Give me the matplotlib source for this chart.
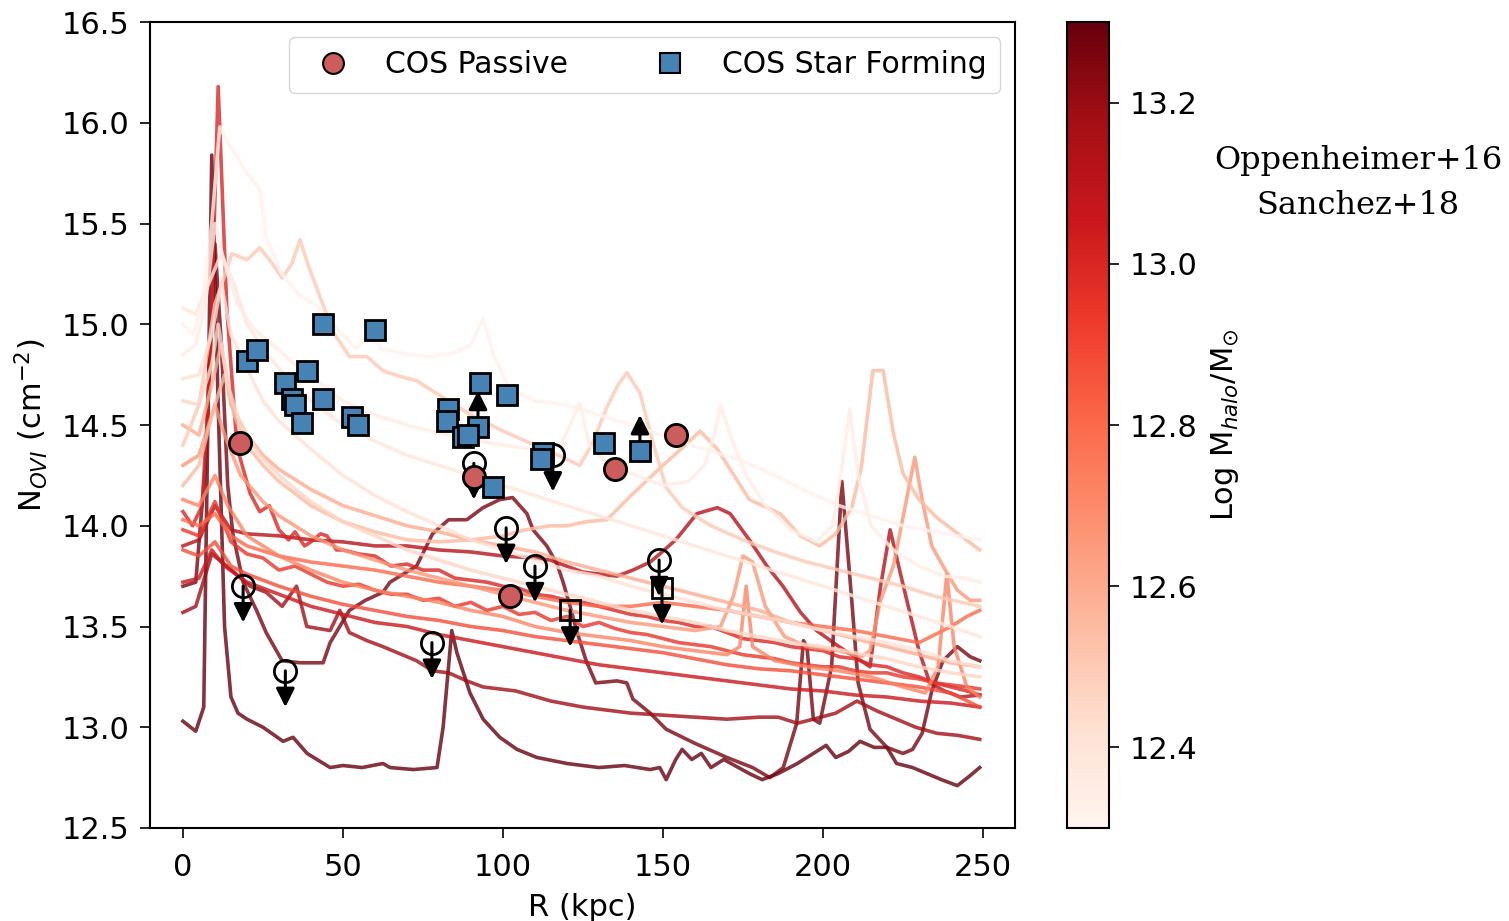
import numpy as np
import matplotlib as mpl
import matplotlib.pyplot as plt
from matplotlib.lines import Line2D

# simulated N_OVI profiles, one per halo (R in kpc, log N in cm^-2)
r_a = [0, 3, 6, 9, 11.5, 14, 17, 20, 24, 26, 31, 36, 42, 48, 54, 58.4, 62, 70, 78, 85,
       90, 93.8, 97, 102, 110, 120, 130, 140, 146, 155, 165, 175, 185, 195, 205, 215, 225, 235, 242, 249]
n_a = [15.0, 14.95, 15.1, 15.5, 15.98, 15.9, 15.83, 15.75, 15.67, 15.43, 15.25, 15.15, 15.09, 14.98, 14.88, 14.95, 14.88, 14.85, 14.84, 14.86,
       14.9, 15.03, 14.85, 14.68, 14.62, 14.6, 14.55, 14.5, 14.47, 14.42, 14.37, 14.32, 14.25, 14.17, 14.1, 14.05, 14.0, 13.97, 13.95, 13.93]

r_b = [0, 4, 7, 10, 13, 17, 22, 28, 35, 42, 50, 60, 70, 80, 90, 100, 110, 118, 121, 124,
       127, 132, 140, 150, 158, 163, 166, 168, 171, 176, 182, 190, 198, 203, 206, 208.4, 211, 215, 222, 230, 238, 244, 249]
n_b = [14.85, 14.9, 15.1, 15.5, 15.3, 15.1, 14.98, 14.9, 14.8, 14.72, 14.62, 14.55, 14.5, 14.46, 14.43, 14.4, 14.38, 14.4, 14.5, 14.61,
       14.4, 14.32, 14.26, 14.2, 14.22, 14.3, 14.45, 14.6, 14.45, 14.25, 14.1, 13.98, 13.92, 14.0, 14.3, 14.58, 14.25, 14.0, 13.88, 13.8, 13.75, 13.74, 13.72]

r_c = [0, 4, 8, 12, 16, 20, 25, 30, 40, 50, 60, 70, 80, 90, 100, 110, 120, 130, 140, 150,
       160, 170, 180, 190, 200, 210, 220, 230, 240, 249]
n_c = [15.08, 15.05, 15.2, 15.35, 15.2, 15.0, 14.88, 14.78, 14.62, 14.5, 14.42, 14.35, 14.3, 14.25, 14.2, 14.15, 14.1, 14.05, 14.0, 13.95,
       13.9, 13.85, 13.8, 13.75, 13.7, 13.65, 13.6, 13.55, 13.5, 13.45]

r_d = [0, 5, 9, 12, 15, 20, 25, 30, 40, 50, 60, 70, 80, 90, 100, 110, 120, 130, 140, 150,
       160, 170, 180, 190, 200, 210, 220, 230, 240, 249]
n_d = [14.73, 14.75, 14.95, 15.2, 14.95, 14.78, 14.62, 14.52, 14.38, 14.25, 14.15, 14.07, 14.0, 13.93, 13.88, 13.83, 13.78, 13.75, 13.7, 13.66,
       13.62, 13.58, 13.55, 13.52, 13.48, 13.45, 13.42, 13.38, 13.33, 13.3]

r_e = [0, 5, 9, 11, 14, 18, 24, 30, 40, 50, 60, 70, 80, 90, 100, 110, 120, 130, 140, 150,
       160, 170, 180, 190, 200, 210, 220, 230, 240, 249]
n_e = [14.62, 14.6, 14.8, 15.0, 14.7, 14.5, 14.35, 14.25, 14.12, 14.02, 13.95, 13.88, 13.83, 13.78, 13.74, 13.7, 13.66, 13.62, 13.58, 13.55,
       13.52, 13.48, 13.45, 13.42, 13.4, 13.37, 13.34, 13.3, 13.27, 13.25]

r_f = [0, 5, 10, 15.3, 20, 24, 28, 31, 34, 36.6, 39, 41.8, 47, 52, 57.5, 62.5, 68, 73, 80, 90,
       100, 110, 120, 124, 128, 132.5, 136, 138.7, 142.8, 146.9, 151, 156, 165, 175, 185, 195, 205, 215, 225, 235, 249]
n_f = [14.4, 14.6, 15.1, 15.35, 15.32, 15.38, 15.3, 15.23, 15.3, 15.42, 15.3, 15.18, 14.96, 14.84, 14.84, 14.77, 14.74, 14.72, 14.65, 14.55,
       14.47, 14.4, 14.33, 14.3, 14.41, 14.59, 14.7, 14.76, 14.66, 14.41, 14.19, 14.09, 14.0, 13.93, 13.87, 13.82, 13.78, 13.74, 13.7, 13.65, 13.6]

r_g = [0, 5, 10, 13, 16, 20, 25, 30, 40, 50, 60, 70, 80, 90, 100, 107, 114.7, 120, 126, 132.5,
       140, 150, 157, 161.6, 167, 173, 177, 186.6, 193, 199, 204, 209, 212, 215.6, 218.8, 222, 225, 230, 235.6, 240.6, 249]
n_g = [14.2, 14.3, 14.6, 14.75, 14.55, 14.4, 14.3, 14.22, 14.1, 14.02, 13.97, 13.93, 13.92, 13.93, 13.95, 13.98, 14.0, 14.0, 14.02, 14.03,
       14.15, 14.3, 14.4, 14.47, 14.38, 14.23, 14.13, 14.06, 13.95, 13.9, 13.96, 14.09, 14.29, 14.77, 14.77, 14.46, 14.26, 14.13, 14.04, 13.98, 13.88]

r_h = [0, 5, 9, 12, 15, 20, 25, 30, 40, 50, 60, 70, 80, 90, 100, 110, 120, 130, 140, 150,
       160, 170, 180, 190, 200, 210, 220, 230, 240, 249]
n_h = [14.5, 14.45, 14.7, 14.9, 14.6, 14.45, 14.35, 14.28, 14.18, 14.1, 14.05, 14.0, 13.97, 13.93, 13.9, 13.87, 13.82, 13.78, 13.74, 13.7,
       13.66, 13.62, 13.58, 13.52, 13.48, 13.44, 13.4, 13.36, 13.32, 13.3]

r_j = [0, 5, 10, 13, 18, 25, 30, 40, 50, 60, 70, 80, 90, 100, 110, 120, 130, 140, 150, 160,
       168, 172, 175, 178, 182, 188, 195, 205, 212, 214.7, 218, 222, 225, 228.7, 231, 234, 237.5, 242, 246, 249]
n_j = [14.3, 14.35, 14.6, 14.45, 14.25, 14.12, 14.05, 13.95, 13.88, 13.83, 13.78, 13.74, 13.7, 13.66, 13.62, 13.58, 13.55, 13.52, 13.5, 13.48,
       13.5, 13.65, 13.85, 13.82, 13.6, 13.45, 13.4, 13.38, 13.35, 13.38, 13.63, 13.8, 14.04, 14.34, 14.13, 13.9, 13.8, 13.68, 13.63, 13.63]

r_k = [0, 5, 10, 14, 20, 30, 40, 50, 60, 70, 80, 90, 100, 110, 120, 130, 140, 150, 160, 170,
       174, 176, 178, 185, 195, 205, 215, 225, 232, 236, 238.7, 241, 245, 249]
n_k = [14.13, 14.1, 14.25, 14.1, 13.95, 13.85, 13.78, 13.72, 13.68, 13.65, 13.62, 13.58, 13.55, 13.5, 13.47, 13.45, 13.43, 13.4, 13.38, 13.36,
       13.4, 13.7, 13.4, 13.33, 13.3, 13.28, 13.25, 13.2, 13.17, 13.3, 13.76, 13.4, 13.2, 13.15]

r_l = [0, 5, 10, 15, 20, 30, 40, 50, 60, 70, 80, 90, 100, 110, 120, 130, 140, 150, 160, 170,
       180, 190, 200, 210, 220, 230, 240, 245, 249]
n_l = [14.03, 14.0, 14.06, 13.95, 13.9, 13.85, 13.82, 13.8, 13.78, 13.75, 13.72, 13.7, 13.68, 13.65, 13.62, 13.6, 13.6, 13.62, 13.6, 13.58,
       13.55, 13.52, 13.5, 13.48, 13.45, 13.42, 13.5, 13.55, 13.58]

r_m = [0, 5, 10, 15, 20, 30, 40, 50, 60, 70, 80, 90, 100, 110, 120, 130, 140, 150, 160, 170,
       180, 190, 200, 210, 220, 230, 240, 249]
n_m = [13.88, 13.85, 13.92, 13.8, 13.76, 13.7, 13.65, 13.61, 13.58, 13.55, 13.53, 13.5, 13.48, 13.45, 13.43, 13.41, 13.39, 13.37, 13.34, 13.31,
       13.29, 13.28, 13.26, 13.24, 13.22, 13.2, 13.17, 13.1]

r_n = [0, 5, 10, 15, 20, 25, 30, 35, 40, 45, 50, 55, 60, 65, 70, 75, 80, 85, 90, 95,
       100, 105, 110, 115, 120, 125, 130, 135, 140, 145, 150, 155, 160, 165, 170, 175, 180, 185, 190, 195,
       200, 205, 210, 215, 220, 225, 230, 235, 240, 245, 249]
n_n = [13.98, 13.95, 14.12, 13.92, 13.86, 13.84, 13.78, 13.8, 13.76, 13.72, 13.7, 13.71, 13.68, 13.66, 13.66, 13.63, 13.64, 13.6, 13.62, 13.58,
       13.6, 13.56, 13.57, 13.53, 13.55, 13.5, 13.52, 13.49, 13.47, 13.46, 13.44, 13.42, 13.41, 13.4, 13.38, 13.36, 13.35, 13.34, 13.32, 13.31,
       13.3, 13.3, 13.28, 13.27, 13.27, 13.25, 13.24, 13.22, 13.21, 13.2, 13.19]

r_o = [0, 3, 6, 8.5, 11, 13.7, 16.9, 21, 24, 27, 30, 33, 35, 38, 40, 43, 45, 48, 50, 55,
       60, 65, 70, 75, 80, 85, 90, 95, 100, 105, 110, 115, 120, 125, 130, 135, 140, 145, 150, 155,
       160, 165, 170, 175, 180, 185, 190, 195, 200, 205, 210, 215, 220, 225, 230, 235, 240, 245, 249]
n_o = [14.07, 14.0, 14.1, 14.8, 16.18, 15.08, 14.39, 14.16, 14.07, 14.1, 13.98, 13.93, 13.97, 13.9, 13.92, 13.96, 13.95, 13.88, 13.88, 13.86,
       13.85, 13.8, 13.81, 13.78, 13.78, 13.74, 13.73, 13.72, 13.7, 13.69, 13.66, 13.65, 13.63, 13.62, 13.6, 13.58, 13.56, 13.55, 13.53, 13.52,
       13.5, 13.5, 13.47, 13.44, 13.43, 13.42, 13.4, 13.39, 13.38, 13.35, 13.34, 13.31, 13.3, 13.27, 13.25, 13.22, 13.2, 13.18, 13.16]

r_p = [0, 5, 9, 13, 20, 30, 40, 50, 60, 70, 80, 90, 100, 110, 120, 130, 140, 150, 160, 170,
       180, 190, 200, 210, 220, 230, 240, 249]
n_p = [13.72, 13.74, 13.88, 13.8, 13.72, 13.66, 13.6, 13.56, 13.52, 13.5, 13.46, 13.43, 13.4, 13.37, 13.34, 13.31, 13.29, 13.27, 13.25, 13.23,
       13.21, 13.19, 13.18, 13.16, 13.15, 13.13, 13.12, 13.1]

r_q = [0, 5, 10, 15, 20, 30, 40, 50, 60, 70, 80, 90, 100, 110, 114.7, 125, 135.6, 140.6, 146, 149,
       154, 160.6, 167, 171, 177, 182.5, 187.5, 193, 198, 205, 210, 214.7, 218, 221, 225, 230, 233.4, 238, 243, 249]
n_q = [13.9, 13.93, 14.1, 13.98, 13.96, 13.95, 13.93, 13.92, 13.9, 13.9, 13.88, 13.87, 13.85, 13.84, 13.83, 13.77, 13.75, 13.78, 13.82, 13.86,
       13.93, 14.06, 14.09, 14.06, 13.93, 13.8, 13.7, 13.57, 13.48, 13.4, 13.35, 13.3, 13.7, 13.98, 13.71, 13.38, 13.22, 13.18, 13.15, 13.16]

r_s = [0, 4, 9, 13.7, 21, 26, 31, 35.5, 38.7, 46, 49, 52, 57.5, 62.5, 73, 78, 83, 88.7, 93.8, 104,
       115, 125, 130, 140, 150, 160, 170, 180, 186, 192, 197, 204, 210.6, 217, 223, 229, 235.6, 242, 249]
n_s = [13.57, 13.6, 13.86, 13.8, 13.7, 13.67, 13.6, 13.7, 13.5, 13.48, 13.58, 13.47, 13.43, 13.4, 13.33, 13.28, 13.27, 13.23, 13.2, 13.18,
       13.13, 13.1, 13.09, 13.07, 13.06, 13.05, 13.04, 13.05, 13.05, 13.02, 13.04, 13.07, 13.13, 13.08, 13.04, 13.0, 12.97, 12.96, 12.94]

r_t = [0, 4, 7, 10, 12, 14, 15.6, 18.8, 23, 26, 31, 36.6, 43.8, 46, 52, 57, 62.5, 64.7, 73, 78,
       83, 88.7, 93.8, 99, 103, 107.5, 109.4, 113.7, 116.9, 118.8, 121, 123, 126, 129, 135.6, 138.7, 140.6, 146, 151, 160,
       170, 178, 183.4, 187.6, 191.8, 193.9, 195, 197, 199, 202.7, 205.9, 209, 211, 214.7, 220, 225, 228, 231, 234, 237.5,
       242, 246, 249]
n_t = [13.7, 13.72, 14.3, 15.4, 14.9, 14.2, 13.96, 13.72, 13.58, 13.47, 13.33, 13.32, 13.32, 13.42, 13.58, 13.63, 13.67, 13.72, 13.8, 13.96,
       14.03, 14.03, 14.09, 14.13, 14.14, 14.06, 13.98, 13.9, 13.81, 13.72, 13.6, 13.48, 13.33, 13.22, 13.23, 13.22, 13.14, 13.07, 12.99, 12.92,
       12.85, 12.8, 12.75, 12.80, 13.02, 13.43, 13.4, 13.04, 13.02, 13.3, 14.22, 13.63, 13.22, 12.99, 12.9, 12.87, 12.89, 12.97, 13.18, 13.33,
       13.4, 13.35, 13.33]

r_u = [0, 4, 6.5, 9, 11, 13, 15, 17.2, 20, 25, 31.3, 34.4, 38.8, 46, 50, 56, 62.5, 64.7, 72, 79.4,
       81.3, 84, 85.6, 89.7, 93.8, 99, 104.4, 110.6, 120, 130, 138, 146, 149, 151, 154, 156, 159, 162, 165, 169,
       177, 181, 186, 192, 197, 201, 204, 208, 211.6, 216, 220, 223, 228, 232.5, 237, 242, 246, 249]
n_u = [13.03, 12.98, 13.1, 15.84, 14.6, 13.5, 13.15, 13.07, 13.04, 13.0, 12.93, 12.95, 12.87, 12.80, 12.81, 12.8, 12.82, 12.80, 12.79, 12.80,
       13.0, 13.48, 13.37, 13.17, 13.04, 12.95, 12.89, 12.85, 12.82, 12.80, 12.81, 12.79, 12.8, 12.74, 12.84, 12.89, 12.84, 12.87, 12.8, 12.84,
       12.77, 12.74, 12.77, 12.82, 12.87, 12.91, 12.85, 12.88, 12.93, 12.9, 12.9, 12.82, 12.8, 12.77, 12.74, 12.71, 12.76, 12.80]

profiles = [(r_a, n_a), (r_b, n_b), (r_c, n_c), (r_d, n_d), (r_e, n_e), (r_f, n_f), (r_g, n_g),
            (r_h, n_h), (r_j, n_j), (r_k, n_k), (r_l, n_l), (r_m, n_m), (r_n, n_n), (r_o, n_o),
            (r_p, n_p), (r_q, n_q), (r_s, n_s), (r_t, n_t), (r_u, n_u)]
log_mhalo = [12.32, 12.35, 12.38, 12.42, 12.46, 12.50, 12.55, 12.60, 12.66, 12.72, 12.80,
             12.88, 12.95, 13.00, 13.06, 13.12, 13.18, 13.26, 13.30]

# COS-Halos detections and limits
passive_r = [17.8, 90.9, 102.2, 135, 154]
passive_n = [14.41, 14.24, 13.65, 14.28, 14.45]
sf_r = [20, 23.1, 43.8, 60, 31.9, 38.7, 34, 35, 37.2, 43.8, 52.8, 54.7, 82.8, 82.5,
        92.8, 101.2, 92.2, 87.5, 89, 96.9, 112.5, 112, 131.5, 142.8]
sf_n = [14.82, 14.87, 15.0, 14.97, 14.71, 14.77, 14.63, 14.6, 14.51, 14.63, 14.54, 14.5, 14.58, 14.52,
        14.71, 14.65, 14.49, 14.44, 14.45, 14.19, 14.36, 14.33, 14.41, 14.37]
lower_r = [92.2, 142.8]
lower_n = [14.49, 14.37]
upper_circ_r = [18.8, 32, 77.8, 90.9, 101, 110, 115.6, 148.8]
upper_circ_n = [13.7, 13.28, 13.42, 14.31, 13.99, 13.8, 14.35, 13.83]
upper_sq_r = [121, 149.7]
upper_sq_n = [13.58, 13.69]

fig = plt.figure(figsize=(15.09, 9.21), dpi=100)
ax = fig.add_axes([0.0994, 0.101, 0.5732, 0.875])
cax = fig.add_axes([0.7071, 0.101, 0.0278, 0.875])

cmap = plt.cm.Reds
norm = mpl.colors.Normalize(vmin=12.3, vmax=13.3)

order = np.argsort(log_mhalo)[::-1]
for i in order:
    r, n = profiles[i]
    ax.plot(r, n, color=cmap(norm(log_mhalo[i])), lw=2.6, alpha=0.8, zorder=2)

arrow = dict(arrowstyle='-|>', color='k', lw=2.2, mutation_scale=28, shrinkA=0, shrinkB=0)
for x, y in zip(upper_circ_r + upper_sq_r, upper_circ_n + upper_sq_n):
    ax.annotate('', xy=(x, y - 0.18), xytext=(x, y), arrowprops=arrow, zorder=4)
for x, y in zip(lower_r, lower_n):
    ax.annotate('', xy=(x, y + 0.18), xytext=(x, y), arrowprops=arrow, zorder=4)

ax.plot(upper_circ_r, upper_circ_n, 'o', ms=16, mfc='none', mec='k', mew=2, zorder=5)
ax.plot(upper_sq_r, upper_sq_n, 's', ms=15, mfc='none', mec='k', mew=2, zorder=5)
ax.plot(passive_r, passive_n, 'o', ms=16, mfc='#cd5c5c', mec='k', mew=2, zorder=5)
ax.plot(sf_r, sf_n, 's', ms=15, mfc='#4682b4', mec='k', mew=2, zorder=5)

ax.set_xlim(-10.3, 260)
ax.set_ylim(12.5, 16.5)
ax.set_xlabel('R (kpc)', fontsize=22, labelpad=8)
ax.set_ylabel(r'N$_{OVI}$ (cm$^{-2}$)', fontsize=22, labelpad=8)
ax.tick_params(labelsize=22, length=7, width=1.2, pad=8)
ax.tick_params(axis='x', pad=11)
for s in ax.spines.values():
    s.set_linewidth(1.5)

handles = [Line2D([], [], ls='none', marker='o', ms=15, mfc='#cd5c5c', mec='k', mew=1.5),
           Line2D([], [], ls='none', marker='s', ms=14, mfc='#4682b4', mec='k', mew=1.5)]
ax.legend(handles, ['COS Passive', 'COS Star Forming'], loc='upper right', ncol=2,
          fontsize=21.5, columnspacing=2.4, handletextpad=0.75, borderpad=0.45)

cb = fig.colorbar(mpl.cm.ScalarMappable(norm=norm, cmap=cmap), cax=cax)
cb.set_ticks([12.4, 12.6, 12.8, 13.0, 13.2])
cb.ax.tick_params(labelsize=22, length=7, width=1.2, pad=8)
cb.outline.set_linewidth(1.5)
cb.set_label(r'Log M$_{halo}$/M$_{\odot}$', fontsize=22, labelpad=8)

fig.text(0.9, 0.801, 'Oppenheimer+16\nSanchez+18', ha='center', va='center',
         family='DejaVu Serif', fontsize=23, linespacing=1.6)

fig.savefig('out.png', dpi=100)
